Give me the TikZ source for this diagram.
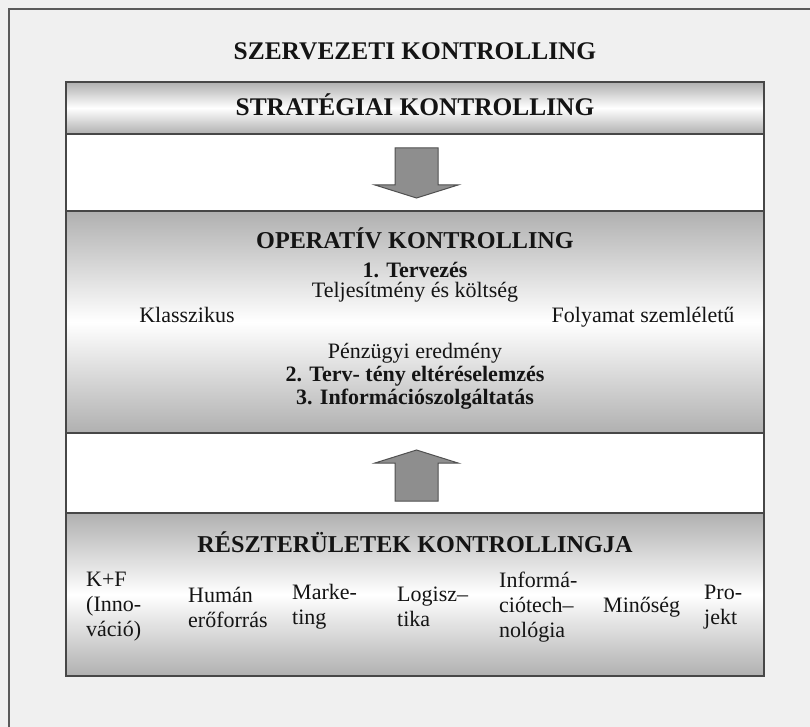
\documentclass[tikz,border=0pt]{standalone}
\usepackage{fontspec}
\setmainfont{Liberation Serif}
\definecolor{bgcol}{HTML}{F0F0F0}
\definecolor{framecol}{HTML}{5A5A5A}
\definecolor{edge}{HTML}{474747}
\definecolor{bandgray}{HTML}{B0B0B0}
\definecolor{arrowfill}{HTML}{8E8E8E}
\definecolor{arrowedge}{HTML}{505050}
\definecolor{ink}{HTML}{141414}
\begin{document}
\begin{tikzpicture}[x=1pt,y=-1pt,
  title/.style={font=\fontsize{25.4}{29}\selectfont\bfseries, text=ink, inner sep=0pt, anchor=base},
  heading/.style={font=\fontsize{24.2}{28}\selectfont\bfseries, text=ink, inner sep=0pt, anchor=base},
  subhead/.style={font=\fontsize{22}{25}\selectfont\bfseries, text=ink, inner sep=0pt, anchor=base},
  plain/.style={font=\fontsize{22}{25}\selectfont, text=ink, inner sep=0pt, anchor=base},
  item/.style={font=\fontsize{22}{25}\selectfont, text=ink, inner sep=0pt, align=left, anchor=west},
  band/.style={top color=bandgray, bottom color=bandgray, middle color=white},
  rule/.style={draw=edge, line width=1.6pt},
  blockarrow/.style={fill=arrowfill, draw=arrowedge, line width=1pt, line join=miter}
]
% page background and outer frame (only its top and left sides fall inside the page)
\fill[bgcol] (0,0) rectangle (810,727);
\useasboundingbox (0,0) rectangle (810,727);
\draw[framecol, line width=1.8pt] (9,727) -- (9,9) -- (810,9);

% central column: white gaps with shaded bands
\fill[white] (66,82) rectangle (764,676);
\shade[band] (66,82) rectangle (764,134);
\shade[band] (66,211) rectangle (764,433);
\shade[band] (66,513) rectangle (764,676);
\draw[rule] (66,82) rectangle (764,676);
\draw[rule] (66,134) -- (764,134);
\draw[rule] (66,211) -- (764,211);
\draw[rule] (66,433) -- (764,433);
\draw[rule] (66,513) -- (764,513);

% block arrows between the levels
\draw[blockarrow] (395,148) -- (438,148) -- (438,185) -- (458,185) -- (416.5,198)
  -- (375,185) -- (395,185) -- cycle;
\draw[blockarrow] (395,501) -- (438,501) -- (438,463) -- (458,463) -- (416.5,450)
  -- (375,463) -- (395,463) -- cycle;

% headings
\node[title] (org) at (415,60) {SZERVEZETI KONTROLLING};
\node[title] (strat) at (415,116) {STRATÉGIAI KONTROLLING};
\node[heading] (oper) at (415,248) {OPERATÍV KONTROLLING};
\node[heading] (areas) at (415,552) {RÉSZTERÜLETEK KONTROLLINGJA};

% operative controlling contents
\node[subhead] (plan) at (415,277) {1. Tervezés};
\node[plain] (perf) at (415,297) {Teljesítmény és költség};
\node[plain] (classic) at (187,322) {Klasszikus};
\node[plain] (process) at (643,322) {Folyamat szemléletű};
\node[plain] (fin) at (415,358) {Pénzügyi eredmény};
\node[subhead] (dev) at (415,381) {2. Terv- tény eltéréselemzés};
\node[subhead] (info) at (415,404) {3. Információszolgáltatás};

% functional areas
\node[item] (rd) at (86,607) {K+F\\(Inno-\\váció)};
\node[item] (hr) at (188,607) {Humán\\erőforrás};
\node[item] (mkt) at (292,607) {Marke-\\ting};
\node[item] (log) at (397,607) {Logisz–\\tika};
\node[item] (it) at (499,607) {Informá-\\ciótech–\\nológia};
\node[item] (qual) at (603,607) {Minőség};
\node[item] (proj) at (704,607) {Pro-\\jekt};
\end{tikzpicture}
\end{document}
